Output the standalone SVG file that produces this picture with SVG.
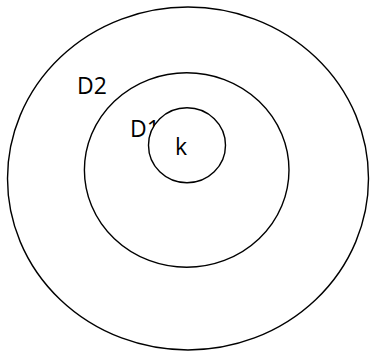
<svg xmlns="http://www.w3.org/2000/svg" width="370" height="352" viewBox="0 0 370 352">
<style>
.c{fill:none;stroke:#000;stroke-width:1.4}
.w{fill:#fff;stroke:#000;stroke-width:1.4}
.t{font-family:"Open Sans","DejaVu Sans",sans-serif;font-size:23px;fill:#000}
</style>
<rect width="370" height="352" fill="#fff"/>
<g id="D2">
<ellipse class="c" cx="188" cy="178.5" rx="180.5" ry="171.5"/>
<text class="t" x="77" y="94">D2</text>
</g>
<g id="D1">
<ellipse class="c" cx="186.7" cy="170" rx="102.3" ry="97.3"/>
<text class="t" x="130" y="137">D1</text>
</g>
<g id="k">
<ellipse class="w" cx="187" cy="145.2" rx="38.5" ry="37.5"/>
<text class="t" x="175" y="155">k</text>
</g>
<g id="connectors"/>
</svg>
